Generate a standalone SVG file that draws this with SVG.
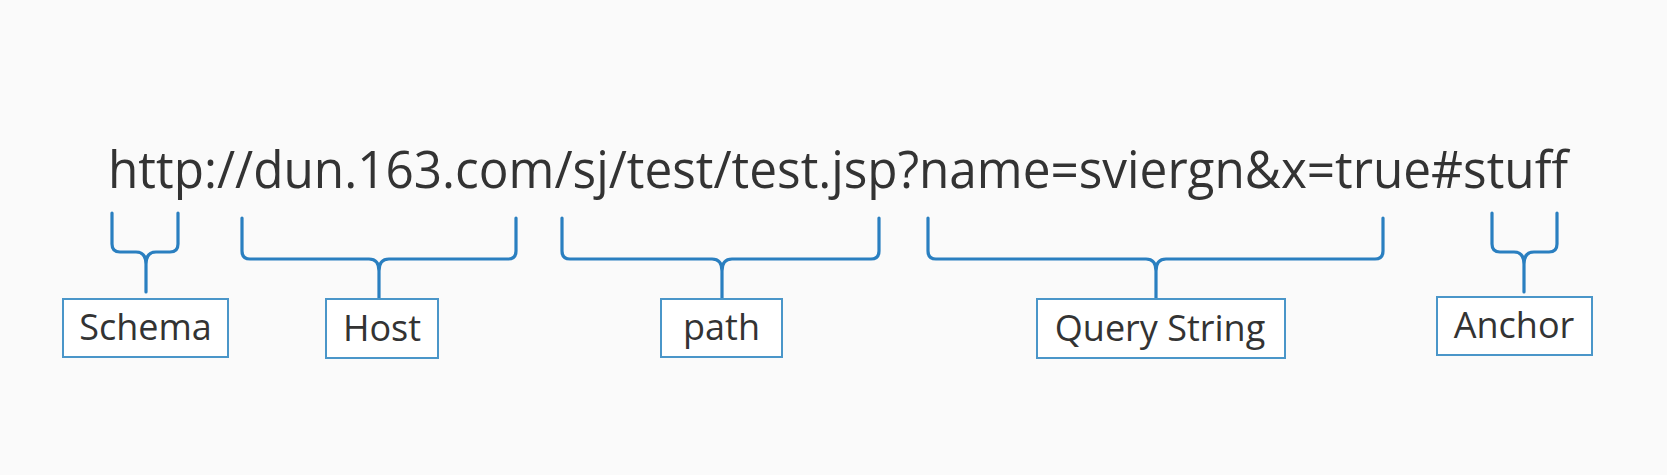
<svg xmlns="http://www.w3.org/2000/svg" width="1667" height="475" viewBox="0 0 1667 475">
<style>
.url{font-family:"Open Sans","Noto Sans",sans-serif;font-size:51px;fill:#333}
.lbl{font-family:"Open Sans","Noto Sans",sans-serif;font-size:36px;fill:#333;text-anchor:middle}
.box{fill:#fff;stroke:#4a96c9;stroke-width:2}
.br{fill:none;stroke:#2a7fc0;stroke-width:3.2;stroke-linecap:round;stroke-linejoin:round}
</style>
<rect width="1667" height="475" fill="#fafafa"/>
<text class="url" x="108" y="188" textLength="1460" lengthAdjust="spacingAndGlyphs">http://dun.163.com/sj/test/test.jsp?name=sviergn&amp;x=true#stuff</text>
<g id="connectors">
<path class="br" d="M112,213 V244 Q112,252 120,252 H136 Q146,252 146,264 V292 M178,213 V244 Q178,252 170,252 H156 Q146,252 146,264"/>
<path class="br" d="M242,218 V251 Q242,259 250,259 H369 Q379,259 379,271 V299 M516,218 V251 Q516,259 508,259 H389 Q379,259 379,271"/>
<path class="br" d="M562,218 V251 Q562,259 570,259 H712 Q722,259 722,271 V299 M879,218 V251 Q879,259 871,259 H732 Q722,259 722,271"/>
<path class="br" d="M928,218 V251 Q928,259 936,259 H1146 Q1156,259 1156,271 V299 M1383,218 V251 Q1383,259 1375,259 H1166 Q1156,259 1156,271"/>
<path class="br" d="M1492,213 V244 Q1492,252 1500,252 H1514 Q1524,252 1524,264 V292 M1557,213 V244 Q1557,252 1549,252 H1534 Q1524,252 1524,264"/>
</g>
<g id="schema"><rect class="box" x="63" y="299" width="165" height="58"/><text class="lbl" x="145.5" y="340">Schema</text></g>
<g id="host"><rect class="box" x="326" y="299" width="112" height="59"/><text class="lbl" x="382" y="341">Host</text></g>
<g id="path"><rect class="box" x="661" y="299" width="121" height="58"/><text class="lbl" x="721.5" y="340">path</text></g>
<g id="query"><rect class="box" x="1037" y="299" width="248" height="59"/><text class="lbl" x="1160" y="341">Query String</text></g>
<g id="anchor"><rect class="box" x="1437" y="297" width="155" height="58"/><text class="lbl" x="1514" y="338">Anchor</text></g>
</svg>
